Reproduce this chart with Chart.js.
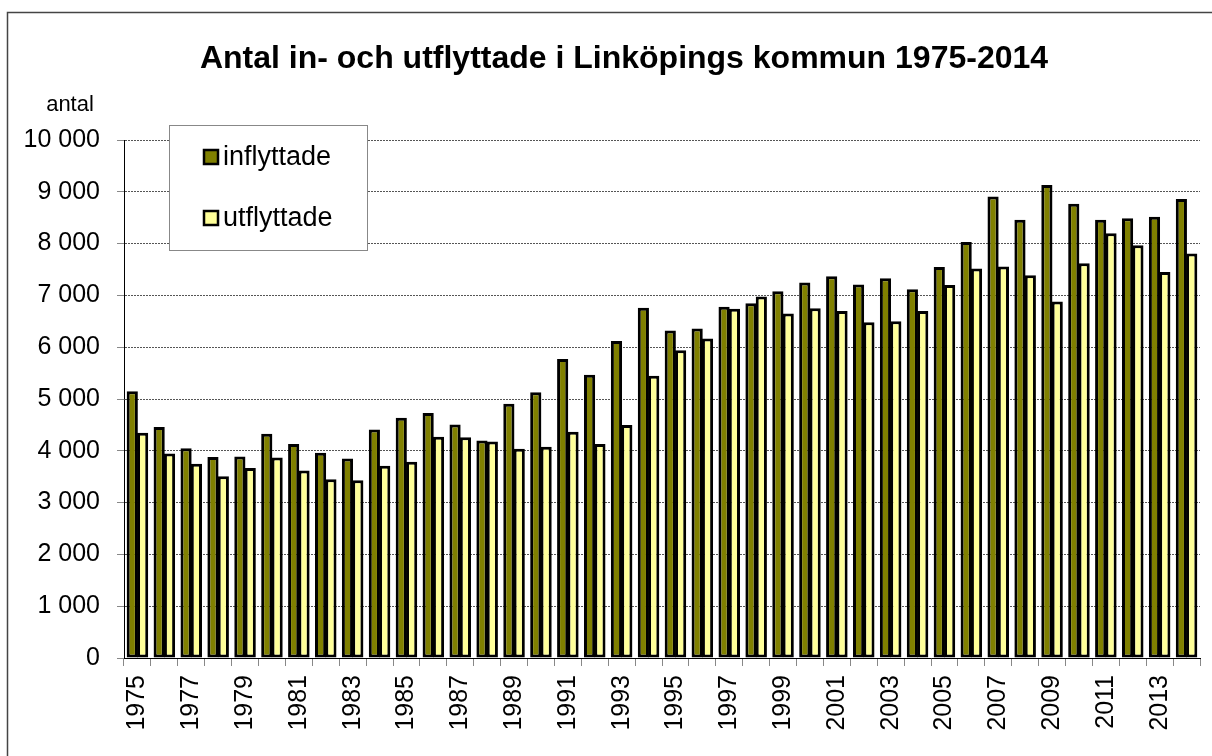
<!DOCTYPE html>
<html>
<head>
<meta charset="utf-8">
<script src="https://cdn.jsdelivr.net/npm/chart.js@4/dist/chart.umd.min.js"></script>
<style>
  html, body { margin: 0; padding: 0; background: #fff; }
  #wrap { width: 1212px; height: 756px; position: relative; }
</style>
</head>
<body>
<div id="wrap"><canvas id="c" width="1212" height="756"></canvas></div>
<script>
const titleText = 'Antal in- och utflyttade i Linköpings kommun 1975-2014';
const yAxisUnit = 'antal';
const years = ['1975','1976','1977','1978','1979','1980','1981','1982','1983','1984',
  '1985','1986','1987','1988','1989','1990','1991','1992','1993','1994',
  '1995','1996','1997','1998','1999','2000','2001','2002','2003','2004',
  '2005','2006','2007','2008','2009','2010','2011','2012','2013','2014'];
const inflyttade = [5150,4460,4050,3880,3890,4330,4130,3960,3850,4410,
  4640,4730,4510,4200,4910,5130,5770,5470,6120,6760,
  6320,6360,6780,6850,7080,7250,7370,7210,7330,7120,
  7550,8030,8910,8460,9130,8770,8460,8490,8520,8860];
const utflyttade = [4350,3950,3750,3510,3670,3870,3620,3450,3430,3710,
  3790,4270,4260,4180,4040,4080,4370,4130,4500,5450,
  5940,6170,6740,6980,6650,6750,6700,6480,6500,6700,
  7200,7520,7560,7390,6880,7620,8200,7970,7450,7810];
const yTickLabels = ['0','1 000','2 000','3 000','4 000','5 000','6 000','7 000','8 000','9 000','10 000'];
const seriesNames = ['inflyttade','utflyttade'];
const seriesColors = ['#808000','#FFFF99'];

const FONT = "'Liberation Sans', Arial, Helvetica, sans-serif";

const decorPlugin = {
  id: 'decor',
  beforeDraw(chart) {
    const ctx = chart.ctx;
    ctx.save();
    ctx.fillStyle = '#fff';
    ctx.fillRect(0, 0, chart.width, chart.height);
    ctx.restore();
  },
  afterDraw(chart) {
    const ctx = chart.ctx;
    ctx.save();
    // outer border
    ctx.strokeStyle = '#444';
    ctx.lineWidth = 1.5;
    ctx.strokeRect(7.5, 12.5, 1400, 1000);
    // title
    ctx.fillStyle = '#000';
    ctx.font = 'bold 32px ' + FONT;
    ctx.textAlign = 'center';
    ctx.textBaseline = 'middle';
    ctx.fillText(titleText, 624, 59);
    // unit label
    ctx.font = '22px ' + FONT;
    ctx.fillText(yAxisUnit, 70, 105);
    // legend
    const lx = 169.5, ly = 125.5, lw = 198, lh = 125;
    ctx.fillStyle = '#fff';
    ctx.fillRect(lx, ly, lw, lh);
    ctx.strokeStyle = '#888';
    ctx.lineWidth = 1;
    ctx.strokeRect(lx, ly, lw, lh);
    const itemsY = [157, 218];
    chart.data.datasets.forEach((ds, i) => {
      const y = itemsY[i];
      ctx.fillStyle = ds.backgroundColor;
      ctx.fillRect(204, y - 7, 14, 14);
      ctx.strokeStyle = '#000';
      ctx.lineWidth = 2.5;
      ctx.strokeRect(204, y - 7, 14, 14);
      ctx.fillStyle = '#000';
      ctx.font = '27px ' + FONT;
      ctx.textAlign = 'left';
      ctx.textBaseline = 'middle';
      ctx.fillText(ds.label, 223, y + 1);
    });
    ctx.restore();
  }
};

new Chart(document.getElementById('c'), {
  type: 'bar',
  data: {
    labels: years,
    datasets: [
      { label: seriesNames[0], data: inflyttade, backgroundColor: seriesColors[0],
        borderColor: '#000', borderWidth: 3, borderSkipped: false },
      { label: seriesNames[1], data: utflyttade, backgroundColor: seriesColors[1],
        borderColor: '#000', borderWidth: 3, borderSkipped: false }
    ]
  },
  options: {
    responsive: false,
    animation: false,
    devicePixelRatio: 1,
    datasets: { bar: { categoryPercentage: 0.77, barPercentage: 1.08 } },
    layout: { padding: { left: 0, right: 12, top: 140, bottom: 0 } },
    plugins: {
      legend: { display: false },
      title: { display: false },
      tooltip: { enabled: false }
    },
    scales: {
      x: {
        grid: { display: true, drawOnChartArea: false, offset: true, tickLength: 8,
                tickColor: '#888', tickWidth: 1 },
        border: { display: true, color: '#000', width: 1 },
        ticks: {
          autoSkip: false, maxRotation: 90, minRotation: 90, padding: 9,
          color: '#000', font: { family: FONT, size: 25 },
          callback: function(value, index) { return index % 2 === 0 ? years[index] : ''; }
        },
        afterFit(scale) { scale.height = 98; scale.paddingLeft = 0; scale.paddingRight = 0; }
      },
      y: {
        min: 0, max: 10000,
        grid: { color: '#555', lineWidth: 1, tickLength: 7, tickColor: '#888',
                tickBorderDash: [], drawTicks: true },
        border: { display: true, color: '#000', width: 1, dash: [2, 1] },
        ticks: {
          stepSize: 1000, padding: 17, color: '#000',
          font: { family: FONT, size: 25 },
          callback: function(value) { return yTickLabels[Math.round(value / 1000)]; }
        },
        afterFit(scale) { scale.width = 124; scale.paddingTop = 0; scale.paddingBottom = 0; }
      }
    }
  },
  plugins: [decorPlugin]
});
</script>
</body>
</html>
